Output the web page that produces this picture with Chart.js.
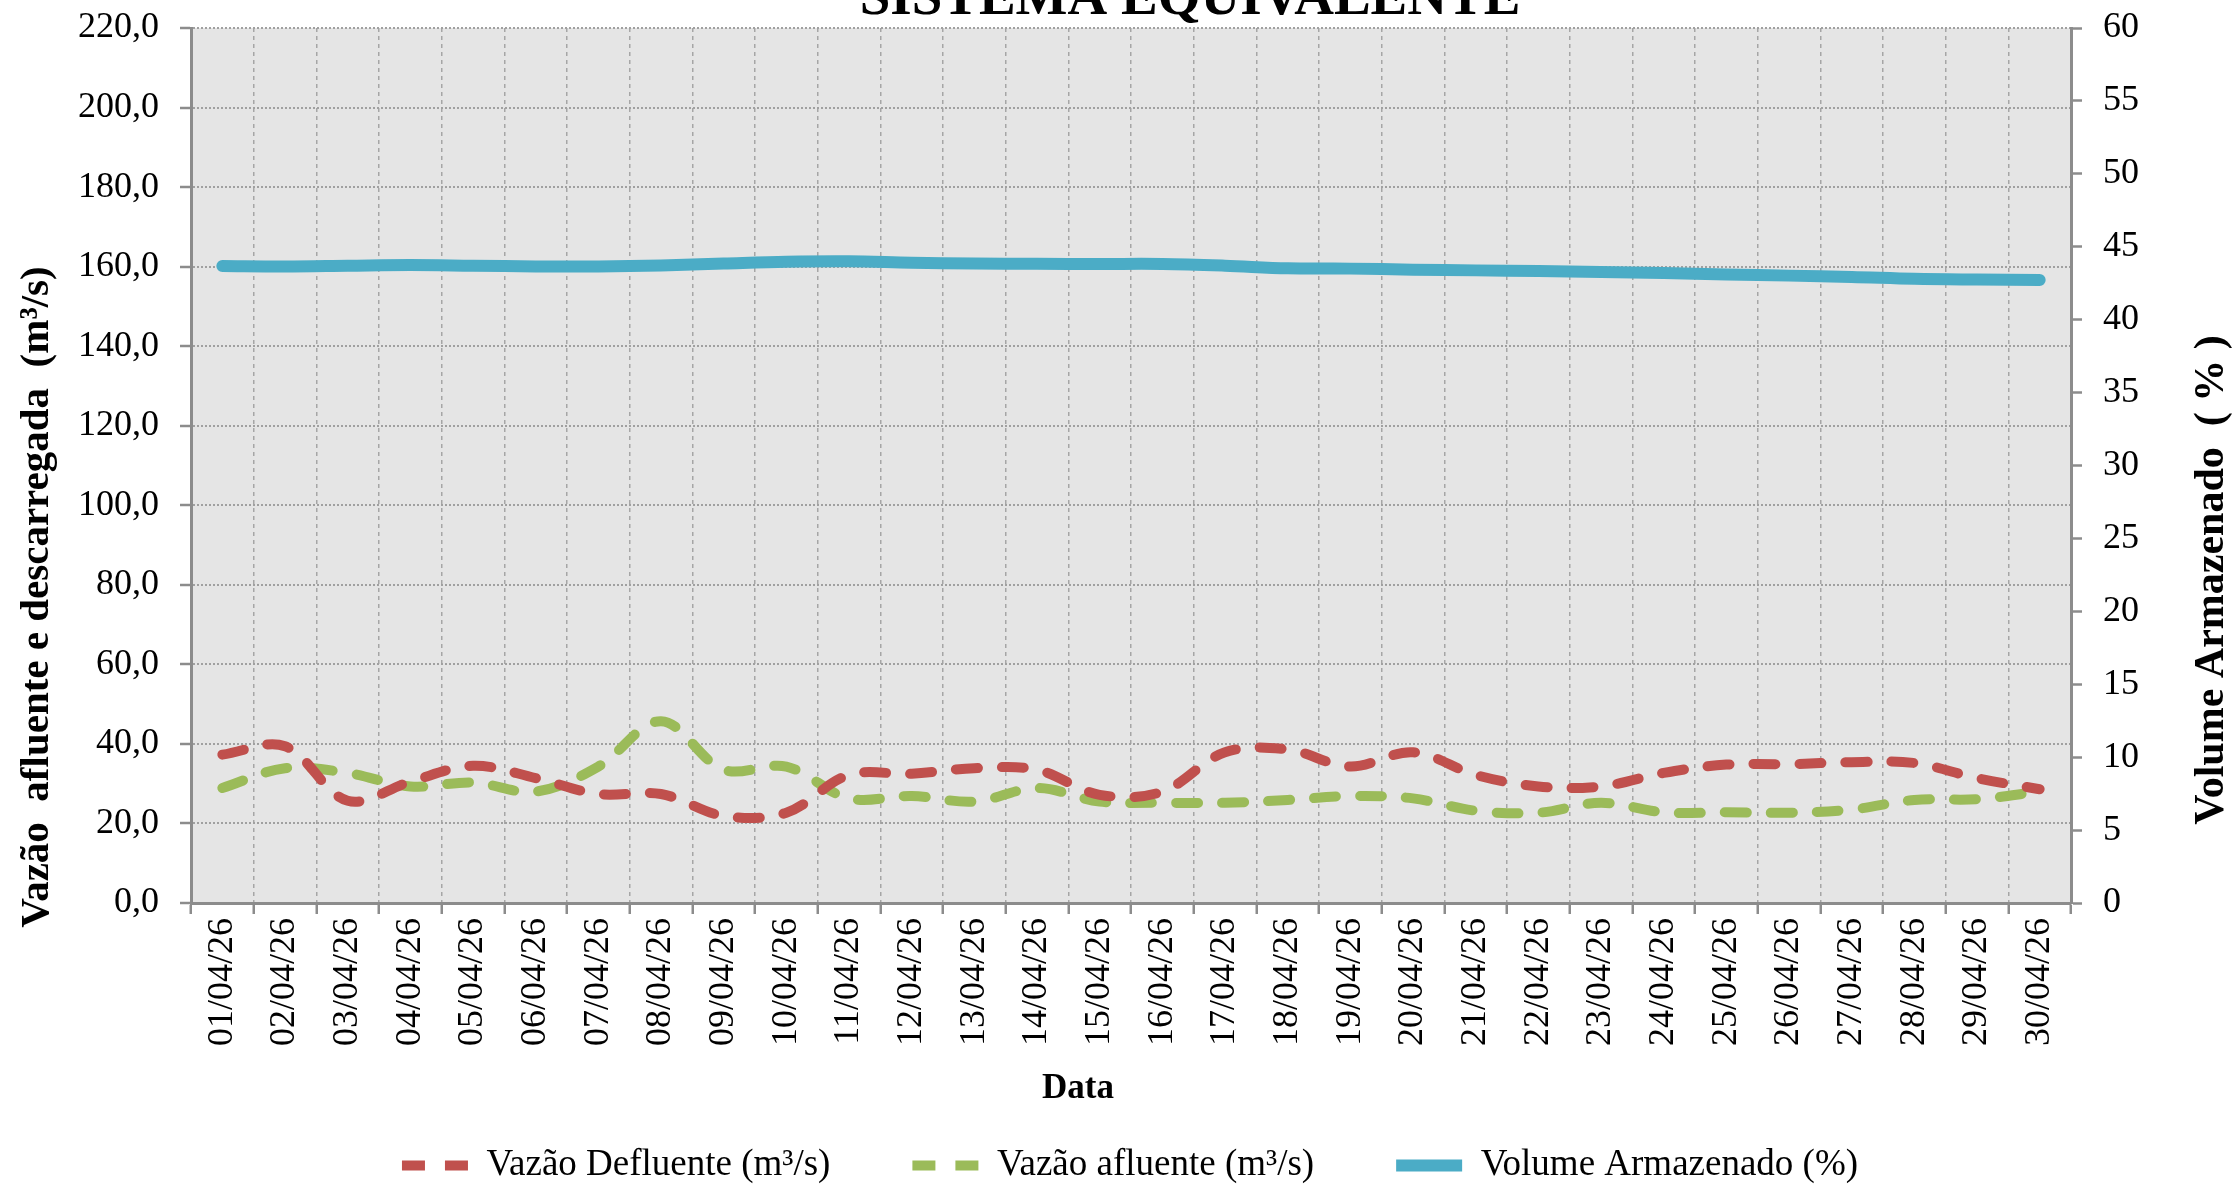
<!DOCTYPE html>
<html>
<head>
<meta charset="utf-8">
<script src="https://cdn.jsdelivr.net/npm/chart.js@4.4.1/dist/chart.umd.min.js"></script>
<style>
html, body { margin: 0; padding: 0; background: #ffffff; }
#wrap { width: 2236px; height: 1185px; }
</style>
</head>
<body>
<div id="wrap"><canvas id="c" width="2236" height="1185"></canvas></div>
<script>
// ---- data ----
const categories = ['01/04/26','02/04/26','03/04/26','04/04/26','05/04/26','06/04/26','07/04/26','08/04/26','09/04/26','10/04/26',
  '11/04/26','12/04/26','13/04/26','14/04/26','15/04/26','16/04/26','17/04/26','18/04/26','19/04/26','20/04/26',
  '21/04/26','22/04/26','23/04/26','24/04/26','25/04/26','26/04/26','27/04/26','28/04/26','29/04/26','30/04/26'];

const vazaoDefluente = [37.3, 39.4, 25.7, 30.5, 34.5, 31.4, 27.4, 27.4, 21.9, 22.7,
  32.2, 32.5, 33.9, 33.5, 27.2, 28.0, 37.9, 38.6, 34.3, 37.9,
  32.2, 29.3, 29.3, 32.7, 34.8, 34.9, 35.4, 35.2, 31.4, 28.6];

const vazaoAfluente = [28.9, 33.9, 32.7, 29.3, 30.3, 28.0, 34.3, 45.7, 33.5, 34.3,
  26.3, 26.9, 25.5, 28.9, 25.5, 25.2, 25.2, 25.9, 26.9, 26.3,
  23.2, 22.7, 25.2, 22.8, 22.8, 22.7, 23.5, 25.9, 26.1, 28.0];

const volumeArmazenado = [43.68, 43.65, 43.70, 43.75, 43.70, 43.65, 43.65, 43.72, 43.85, 43.97,
  44.00, 43.90, 43.85, 43.83, 43.82, 43.82, 43.70, 43.52, 43.50, 43.43,
  43.38, 43.33, 43.27, 43.20, 43.10, 43.02, 42.93, 42.80, 42.75, 42.72];

const leftTickLabels = ['0,0','20,0','40,0','60,0','80,0','100,0','120,0','140,0','160,0','180,0','200,0','220,0'];
const rightTickLabels = ['0','5','10','15','20','25','30','35','40','45','50','55','60'];

const seriesNames = ['Vazão Defluente (m³/s)', 'Vazão afluente (m³/s)', 'Volume Armazenado (%)'];
const chartTitle = 'SISTEMA EQUIVALENTE';
const leftAxisTitle = 'Vazão  afluente e descarregada  (m³/s)';
const rightAxisTitle = 'Volume Armazenado  ( % )';
const xAxisTitle = 'Data';

// ---- styles ----
const SERIF = '"Liberation Serif", "Times New Roman", serif';
const axisGray = '#8c8c8c';

const textPlugin = {
  id: 'textAndBg',
  beforeDraw(chart) {
    const {ctx, chartArea: a} = chart;
    ctx.save();
    ctx.fillStyle = '#e5e5e5';
    ctx.fillRect(a.left, a.top, a.right - a.left, a.bottom - a.top);
    ctx.restore();
  },
  afterDraw(chart) {
    const ctx = chart.ctx;
    ctx.save();
    ctx.fillStyle = '#000';
    ctx.textAlign = 'center';
    // main title (partly cut at top)
    ctx.font = 'bold 55px ' + SERIF;
    ctx.textBaseline = 'alphabetic';
    ctx.fillText(chartTitle, 1190, 14);
    // x title
    ctx.font = 'bold 35px ' + SERIF;
    ctx.textBaseline = 'middle';
    ctx.fillText(xAxisTitle, 1078, 1089);
    // left title
    ctx.save();
    ctx.translate(37, 597);
    ctx.rotate(-Math.PI / 2);
    ctx.font = 'bold 41px ' + SERIF;
    ctx.fillText(leftAxisTitle, 0, 0);
    ctx.restore();
    // right title
    ctx.save();
    ctx.translate(2212, 580);
    ctx.rotate(-Math.PI / 2);
    ctx.font = 'bold 42px ' + SERIF;
    ctx.fillText(rightAxisTitle, 0, 0);
    ctx.restore();
    ctx.restore();
  }
};

const tickFont = { family: SERIF, size: 36 };
const noPad = (s) => { s.paddingTop = 0; s.paddingBottom = 0; s.paddingLeft = 0; s.paddingRight = 0; };

new Chart(document.getElementById('c'), {
  type: 'line',
  data: {
    labels: categories,
    datasets: [
      {
        label: seriesNames[0], data: vazaoDefluente, yAxisID: 'y',
        borderColor: '#C0504D', backgroundColor: '#C0504D',
        borderWidth: 10, borderDash: [22, 24], borderCapStyle: 'round', borderJoinStyle: 'round',
        pointRadius: 0, tension: 0.35, fill: false
      },
      {
        label: seriesNames[1], data: vazaoAfluente, yAxisID: 'y',
        borderColor: '#9BBB59', backgroundColor: '#9BBB59',
        borderWidth: 10, borderDash: [22, 24], borderCapStyle: 'round', borderJoinStyle: 'round',
        pointRadius: 0, tension: 0.35, fill: false
      },
      {
        label: seriesNames[2], data: volumeArmazenado, yAxisID: 'y1',
        borderColor: '#4BACC6', backgroundColor: '#4BACC6',
        borderWidth: 12, borderCapStyle: 'round', borderJoinStyle: 'round',
        pointRadius: 0, tension: 0.35, fill: false
      }
    ]
  },
  options: {
    responsive: false,
    devicePixelRatio: 1,
    animation: false,
    layout: { padding: { top: 28, left: 24, right: 0, bottom: 0 } },
    plugins: {
      title: { display: false },
      tooltip: { enabled: false },
      legend: {
        position: 'bottom',
        maxHeight: 120,
        labels: {
          font: { family: SERIF, size: 37 },
          color: '#000',
          usePointStyle: true,
          pointStyle: 'line',
          pointStyleWidth: 66,
          boxHeight: 37,
          padding: 82,
          generateLabels(chart) {
            const items = Chart.defaults.plugins.legend.labels.generateLabels(chart);
            items.forEach((it, i) => {
              it.pointStyle = 'line';
              if (i < 2) it.lineDash = [23, 20];
            });
            return items;
          }
        }
      }
    },
    scales: {
      x: {
        type: 'category',
        offset: true,
        grid: {
          offset: true, color: '#a6a6a6', lineWidth: 1.5,
          drawTicks: true, tickLength: 11, tickColor: axisGray, tickWidth: 2.5
        },
        border: { display: true, color: axisGray, width: 3, dash: [4, 4] },
        ticks: { font: tickFont, color: '#000', minRotation: 90, maxRotation: 90, autoSkip: false, padding: 4 },
        afterFit(s) { s.height = 162; noPad(s); }
      },
      y: {
        position: 'left',
        min: 0, max: 220,
        ticks: { stepSize: 20, font: tickFont, color: '#000', padding: 21,
          callback: (v, i) => leftTickLabels[i] },
        grid: { color: '#a0a0a0', lineWidth: 2, drawTicks: true, tickLength: 11, tickColor: axisGray, tickWidth: 2.5 },
        border: { display: true, color: axisGray, width: 3, dash: [2, 2] },
        afterFit(s) { s.width = 167; noPad(s); }
      },
      y1: {
        position: 'right',
        min: 0, max: 60,
        ticks: { stepSize: 5, font: tickFont, color: '#000', padding: 21,
          callback: (v, i) => rightTickLabels[i] },
        grid: { drawOnChartArea: false, drawTicks: true, tickLength: 11, tickColor: axisGray, tickWidth: 2.5 },
        border: { display: true, color: axisGray, width: 3 },
        afterFit(s) { s.width = 165; noPad(s); }
      }
    }
  },
  plugins: [textPlugin]
});
</script>
</body>
</html>
